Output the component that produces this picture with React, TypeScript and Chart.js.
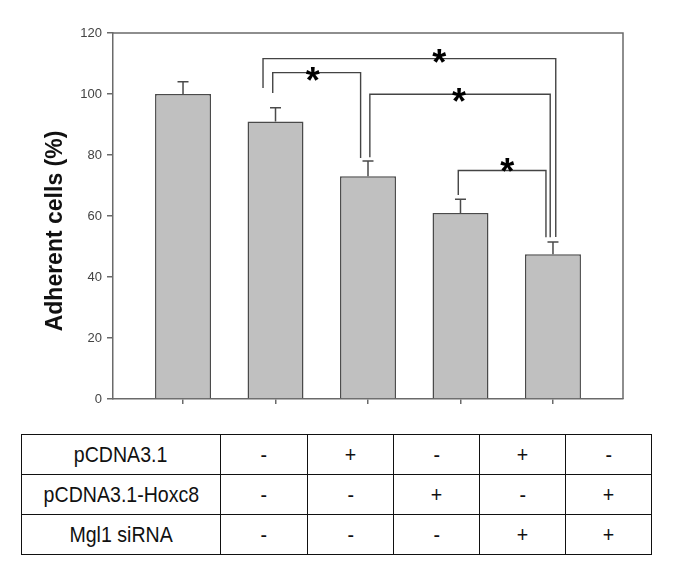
import React, { useEffect, useRef } from "react";
import { Chart, registerables } from "chart.js";

Chart.register(...registerables);

// ---- data ----
const barPositions = [1, 2, 3, 4, 5];
const barValues = [100, 91, 73, 61, 47.5];
const barErrors = [4, 4.5, 5, 4.5, 4];
const yTicks = [0, 20, 40, 60, 80, 100, 120];
const yTitle = "Adherent cells (%)";

// significance brackets (data units)
const bracketLeftX = [1.97, 1.865, 3.02, 3.976];
const bracketRightX = [2.92, 5.03, 4.97, 4.924];
const bracketTopY = [107, 111.6, 99.9, 74.9];
const bracketLeftBottomY = [100.3, 102, 79.3, 66.9];
const bracketRightBottomY = [79, 53.1, 53, 53];
const starX = [2.402, 3.77, 3.984, 4.506];
const starY = [107.3, 113, 100.4, 77.3];
const starText = "*";

// table
const rowLabels = ["pCDNA3.1", "pCDNA3.1-Hoxc8", "Mgl1 siRNA"];
const rowPCDNA = ["-", "+", "-", "+", "-"];
const rowHoxc8 = ["-", "-", "+", "-", "+"];
const rowSiRNA = ["-", "-", "-", "+", "+"];
const tableRows = [rowPCDNA, rowHoxc8, rowSiRNA];

const FONT = "'Liberation Sans', Arial, Helvetica, sans-serif";

export default function App() {
  const canvasRef = useRef<HTMLCanvasElement | null>(null);

  useEffect(() => {
    const canvas = canvasRef.current;
    if (!canvas) return;

    const extrasPlugin = {
      id: "extras",
      afterDatasetsDraw(chart: any) {
        const ctx = chart.ctx;
        const xs = chart.scales.x;
        const ys = chart.scales.y;
        const area = chart.chartArea;
        ctx.save();
        // frame top & right
        ctx.strokeStyle = "#6a6a6a";
        ctx.lineWidth = 1.5;
        ctx.beginPath();
        ctx.moveTo(area.left, area.top);
        ctx.lineTo(area.right, area.top);
        ctx.lineTo(area.right, area.bottom);
        ctx.stroke();

        // error bars
        ctx.strokeStyle = "#4a4a4a";
        ctx.lineWidth = 1.5;
        for (let i = 0; i < barValues.length; i++) {
          const x = xs.getPixelForValue(barPositions[i]);
          const y0 = ys.getPixelForValue(barValues[i]);
          const y1 = ys.getPixelForValue(barValues[i] + barErrors[i]);
          ctx.beginPath();
          ctx.moveTo(x, y0);
          ctx.lineTo(x, y1);
          ctx.moveTo(x - 5.5, y1);
          ctx.lineTo(x + 5.5, y1);
          ctx.stroke();
        }

        // brackets
        ctx.strokeStyle = "#444";
        ctx.lineWidth = 1.4;
        for (let i = 0; i < bracketLeftX.length; i++) {
          const xl = xs.getPixelForValue(bracketLeftX[i]);
          const xr = xs.getPixelForValue(bracketRightX[i]);
          const yt = ys.getPixelForValue(bracketTopY[i]);
          const ylb = ys.getPixelForValue(bracketLeftBottomY[i]);
          const yrb = ys.getPixelForValue(bracketRightBottomY[i]);
          ctx.beginPath();
          ctx.moveTo(xl, ylb);
          ctx.lineTo(xl, yt);
          ctx.lineTo(xr, yt);
          ctx.lineTo(xr, yrb);
          ctx.stroke();
        }

        // stars
        ctx.fillStyle = "#000";
        ctx.font = "bold 36px " + FONT;
        ctx.textAlign = "center";
        ctx.textBaseline = "alphabetic";
        for (let i = 0; i < starX.length; i++) {
          const x = xs.getPixelForValue(starX[i]);
          const y = ys.getPixelForValue(starY[i]);
          ctx.fillText(starText, x, y + 21);
        }

        // y title
        ctx.save();
        ctx.translate(56, (area.top + area.bottom) / 2 + 15);
        ctx.rotate(-Math.PI / 2);
        ctx.font = "bold 23px " + FONT;
        ctx.fillStyle = "#111";
        ctx.textAlign = "center";
        ctx.textBaseline = "middle";
        ctx.fillText(yTitle, 0, 0);
        ctx.restore();

        ctx.restore();
      },
    };

    const chart = new Chart(canvas, {
      type: "bar",
      data: {
        datasets: [
          {
            data: barPositions.map((x, i) => ({ x, y: barValues[i] })),
            backgroundColor: "#c0c0c0",
            borderColor: "#4a4a4a",
            borderWidth: 1.5,
            categoryPercentage: 1,
            barPercentage: 0.605,
          },
        ],
      },
      options: {
        responsive: false,
        animation: false,
        events: [],
        layout: { padding: { top: 33, right: 52, left: 0, bottom: 0 } },
        plugins: {
          legend: { display: false },
          tooltip: { enabled: false },
          title: { display: false },
        },
        scales: {
          x: {
            type: "linear",
            min: 0.243,
            max: 5.757,
            offset: false,
            afterBuildTicks: (s: any) => {
              s.ticks = barPositions.map((v) => ({ value: v }));
            },
            afterFit: (s: any) => {
              s.height = 21;
            },
            ticks: { display: false },
            grid: {
              offset: false,
              drawOnChartArea: false,
              drawTicks: true,
              tickLength: 5,
              color: "#6a6a6a",
              lineWidth: 1.5,
            },
            border: { display: true, color: "#6a6a6a", width: 1.5 },
          },
          y: {
            min: 0,
            max: 120,
            afterBuildTicks: (s: any) => {
              s.ticks = yTicks.map((v) => ({ value: v }));
            },
            afterFit: (s: any) => {
              s.width = 113;
            },
            ticks: {
              color: "#444",
              font: { family: FONT, size: 13 },
              padding: 5,
            },
            grid: {
              drawOnChartArea: false,
              drawTicks: true,
              tickLength: 6,
              color: "#6a6a6a",
              lineWidth: 1.5,
            },
            border: { display: true, color: "#6a6a6a", width: 1.5 },
          },
        },
      },
      plugins: [extrasPlugin],
    } as any);

    return () => chart.destroy();
  }, []);

  const cellStyle: React.CSSProperties = {
    border: "1.5px solid #111",
    textAlign: "center",
    verticalAlign: "middle",
    padding: 0,
    height: 39,
    whiteSpace: "nowrap",
  };
  const textStyle: React.CSSProperties = {
    display: "inline-block",
    transform: "scaleX(0.89)",
  };

  return (
    <div style={{ position: "absolute", left: 0, top: 0, width: 675, height: 575, background: "#fff" }}>
      <canvas ref={canvasRef} width={675} height={420} style={{ display: "block" }} />
      <table
        style={{
          position: "absolute",
          left: 21,
          top: 434,
          width: 630,
          borderCollapse: "collapse",
          fontFamily: FONT,
          fontSize: 22,
          color: "#111",
          tableLayout: "fixed",
        }}
      >
        <colgroup>
          <col style={{ width: 199 }} />
          <col style={{ width: 87 }} />
          <col style={{ width: 86 }} />
          <col style={{ width: 86 }} />
          <col style={{ width: 86 }} />
          <col style={{ width: 86 }} />
        </colgroup>
        <tbody>
          {rowLabels.map((label, r) => (
            <tr key={label}>
              <td style={cellStyle}>
                <span style={textStyle}>{label}</span>
              </td>
              {tableRows[r].map((s, c) => (
                <td key={c} style={cellStyle}>
                  <span style={textStyle}>{s}</span>
                </td>
              ))}
            </tr>
          ))}
        </tbody>
      </table>
    </div>
  );
}
